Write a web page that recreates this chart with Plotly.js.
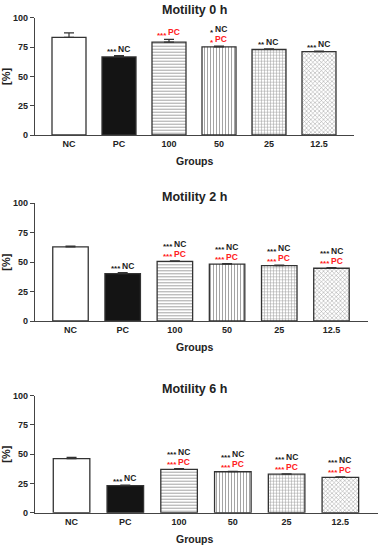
<!DOCTYPE html>
<html><head><meta charset="utf-8">
<script src="https://cdn.plot.ly/plotly-3.0.1.min.js"></script>
<style>html,body{margin:0;padding:0;background:#fff}#c{width:383px;height:550px}</style>
</head><body><div id="c"></div>
<script>
const groups = ["NC", "PC", "100", "50", "25", "12.5"];
const titles = ["Motility 0 h", "Motility 2 h", "Motility 6 h"];
const mot0 = [83.2, 66.6, 79.2, 75.2, 72.9, 71.0];
const err0 = [3.8, 1.0, 2.4, 0.6, 0.6, 0.5];
const mot2 = [63.0, 40.3, 50.7, 48.4, 47.0, 44.8];
const err2 = [0.6, 0.8, 0.5, 0.4, 0.4, 0.5];
const mot6 = [46.3, 23.2, 37.0, 35.0, 32.9, 30.2];
const err6 = [1.0, 0.3, 0.7, 0.4, 0.4, 0.5];
// significance labels vs NC (black) and vs PC (red)
const sigNC0 = ["", "***", "", "*", "**", "***"];
const sigPC0 = ["", "", "***", "*", "", ""];
const sigNC2 = ["", "***", "***", "***", "***", "***"];
const sigPC2 = ["", "", "***", "***", "***", "***"];
const sigNC6 = ["", "***", "***", "***", "***", "***"];
const sigPC6 = ["", "", "***", "***", "***", "***"];

const vals = [mot0, mot2, mot6], errs = [err0, err2, err6];
const sigNC = [sigNC0, sigNC2, sigNC6], sigPC = [sigPC0, sigPC2, sigPC6];

const shapes = ["", "", "-", "|", "+", "x"];
const fills = ["#ffffff", "#141414", "#ffffff", "#ffffff", "#ffffff", "#ffffff"];

const H = 550, W = 383;
const ydom = [[1-135/H, 1-17.7/H], [1-321/H, 1-203.3/H], [1-512.7/H, 1-395.7/H]];
const xdom = [[35/W, 354/W], [35/W, 368/W], [35/W, 378/W]];
const titleY = [9.5, 197, 389];
const groupsY = [161, 347, 539];
const FONT = "Arial, Liberation Sans, sans-serif";

const data = [], annotations = [];
const layout = {
  width: W, height: H, margin: {l:0, r:0, t:0, b:0},
  paper_bgcolor: "#fff", plot_bgcolor: "#fff", showlegend: false,
  font: {family: FONT, color: "#222"},
  barmode: "overlay", annotations: annotations
};

function addSig(xa, ya, i, top, stars, label, color, shift) {
  const starsW = stars.length * 3.2, labW = 12.5;
  const dx = (starsW - labW) / 2;
  annotations.push({
    text: "<b>" + stars + "</b>", xref: xa, yref: ya, x: i, y: top,
    xanchor: "right", yanchor: "bottom", xshift: dx - 0.5, yshift: shift - 2.5, showarrow: false,
    borderpad: 0, borderwidth: 0,
    font: {size: 8, color: color, family: FONT}
  });
  annotations.push({
    text: "<b>" + label + "</b>", xref: xa, yref: ya, x: i, y: top,
    xanchor: "left", yanchor: "bottom", xshift: dx + 0.5, yshift: shift, showarrow: false,
    borderpad: 0, borderwidth: 0,
    font: {size: 8.5, color: color, family: FONT}
  });
}

for (let p = 0; p < 3; p++) {
  const xa = p === 0 ? "x" : "x" + (p+1), ya = p === 0 ? "y" : "y" + (p+1);
  const xk = p === 0 ? "xaxis" : "xaxis" + (p+1), yk = p === 0 ? "yaxis" : "yaxis" + (p+1);
  for (let i = 0; i < groups.length; i++) {
    const mk = {color: fills[i], line: {color: "#333", width: 1.3}};
    if (shapes[i]) mk.pattern = {shape: shapes[i], fgcolor: "#9a9a9a", size: 3, solidity: 0.3};
    data.push({
      type: "bar", x: [groups[i]], y: [vals[p][i]], xaxis: xa, yaxis: ya, width: 0.68,
      marker: mk,
      error_y: {type: "data", array: [errs[p][i]], arrayminus: [0], symmetric: false,
                color: "#333", thickness: 1.2, width: 5},
      hoverinfo: "skip"
    });
  }
  layout[xk] = {
    domain: xdom[p], anchor: ya, range: [-0.68, 5.7], type: "category",
    categoryorder: "array", categoryarray: groups,
    showline: true, linecolor: "#444", linewidth: 1.2, ticks: "", showgrid: false, zeroline: false,
    tickfont: {size: 9, family: FONT, color: "#222", weight: "bold"},
    fixedrange: true
  };
  layout[yk] = {
    domain: ydom[p], anchor: xa, range: [0, 100], tickvals: [0, 25, 50, 75, 100],
    showline: true, linecolor: "#444", linewidth: 1.2, ticks: "outside", ticklen: 4, tickcolor: "#444",
    showgrid: false, zeroline: false,
    tickfont: {size: 9, family: FONT, color: "#222", weight: "bold"},
    title: {text: "[%]", font: {size: 11, weight: "bold", color: "#222"}, standoff: 6}
  };
  annotations.push({
    text: "<b>" + titles[p] + "</b>", xref: "paper", yref: "paper", x: 194/W, y: 1 - titleY[p]/H,
    xanchor: "center", yanchor: "middle", showarrow: false, font: {size: 12.5, color: "#222"}
  });
  annotations.push({
    text: "<b>Groups</b>", xref: "paper", yref: "paper", x: 194/W, y: 1 - groupsY[p]/H,
    xanchor: "center", yanchor: "middle", showarrow: false, font: {size: 10.5, color: "#222"}
  });
  for (let i = 0; i < groups.length; i++) {
    const top = vals[p][i] + errs[p][i];
    let shift = 2;
    if (sigPC[p][i]) {
      addSig(xa, ya, i, top, sigPC[p][i], "PC", "#ff2020", shift);
      shift += 10;
    }
    if (sigNC[p][i]) {
      addSig(xa, ya, i, top, sigNC[p][i], "NC", "#222222", shift);
    }
  }
}

Plotly.newPlot("c", data, layout, {displayModeBar: false, staticPlot: true});
</script></body></html>
